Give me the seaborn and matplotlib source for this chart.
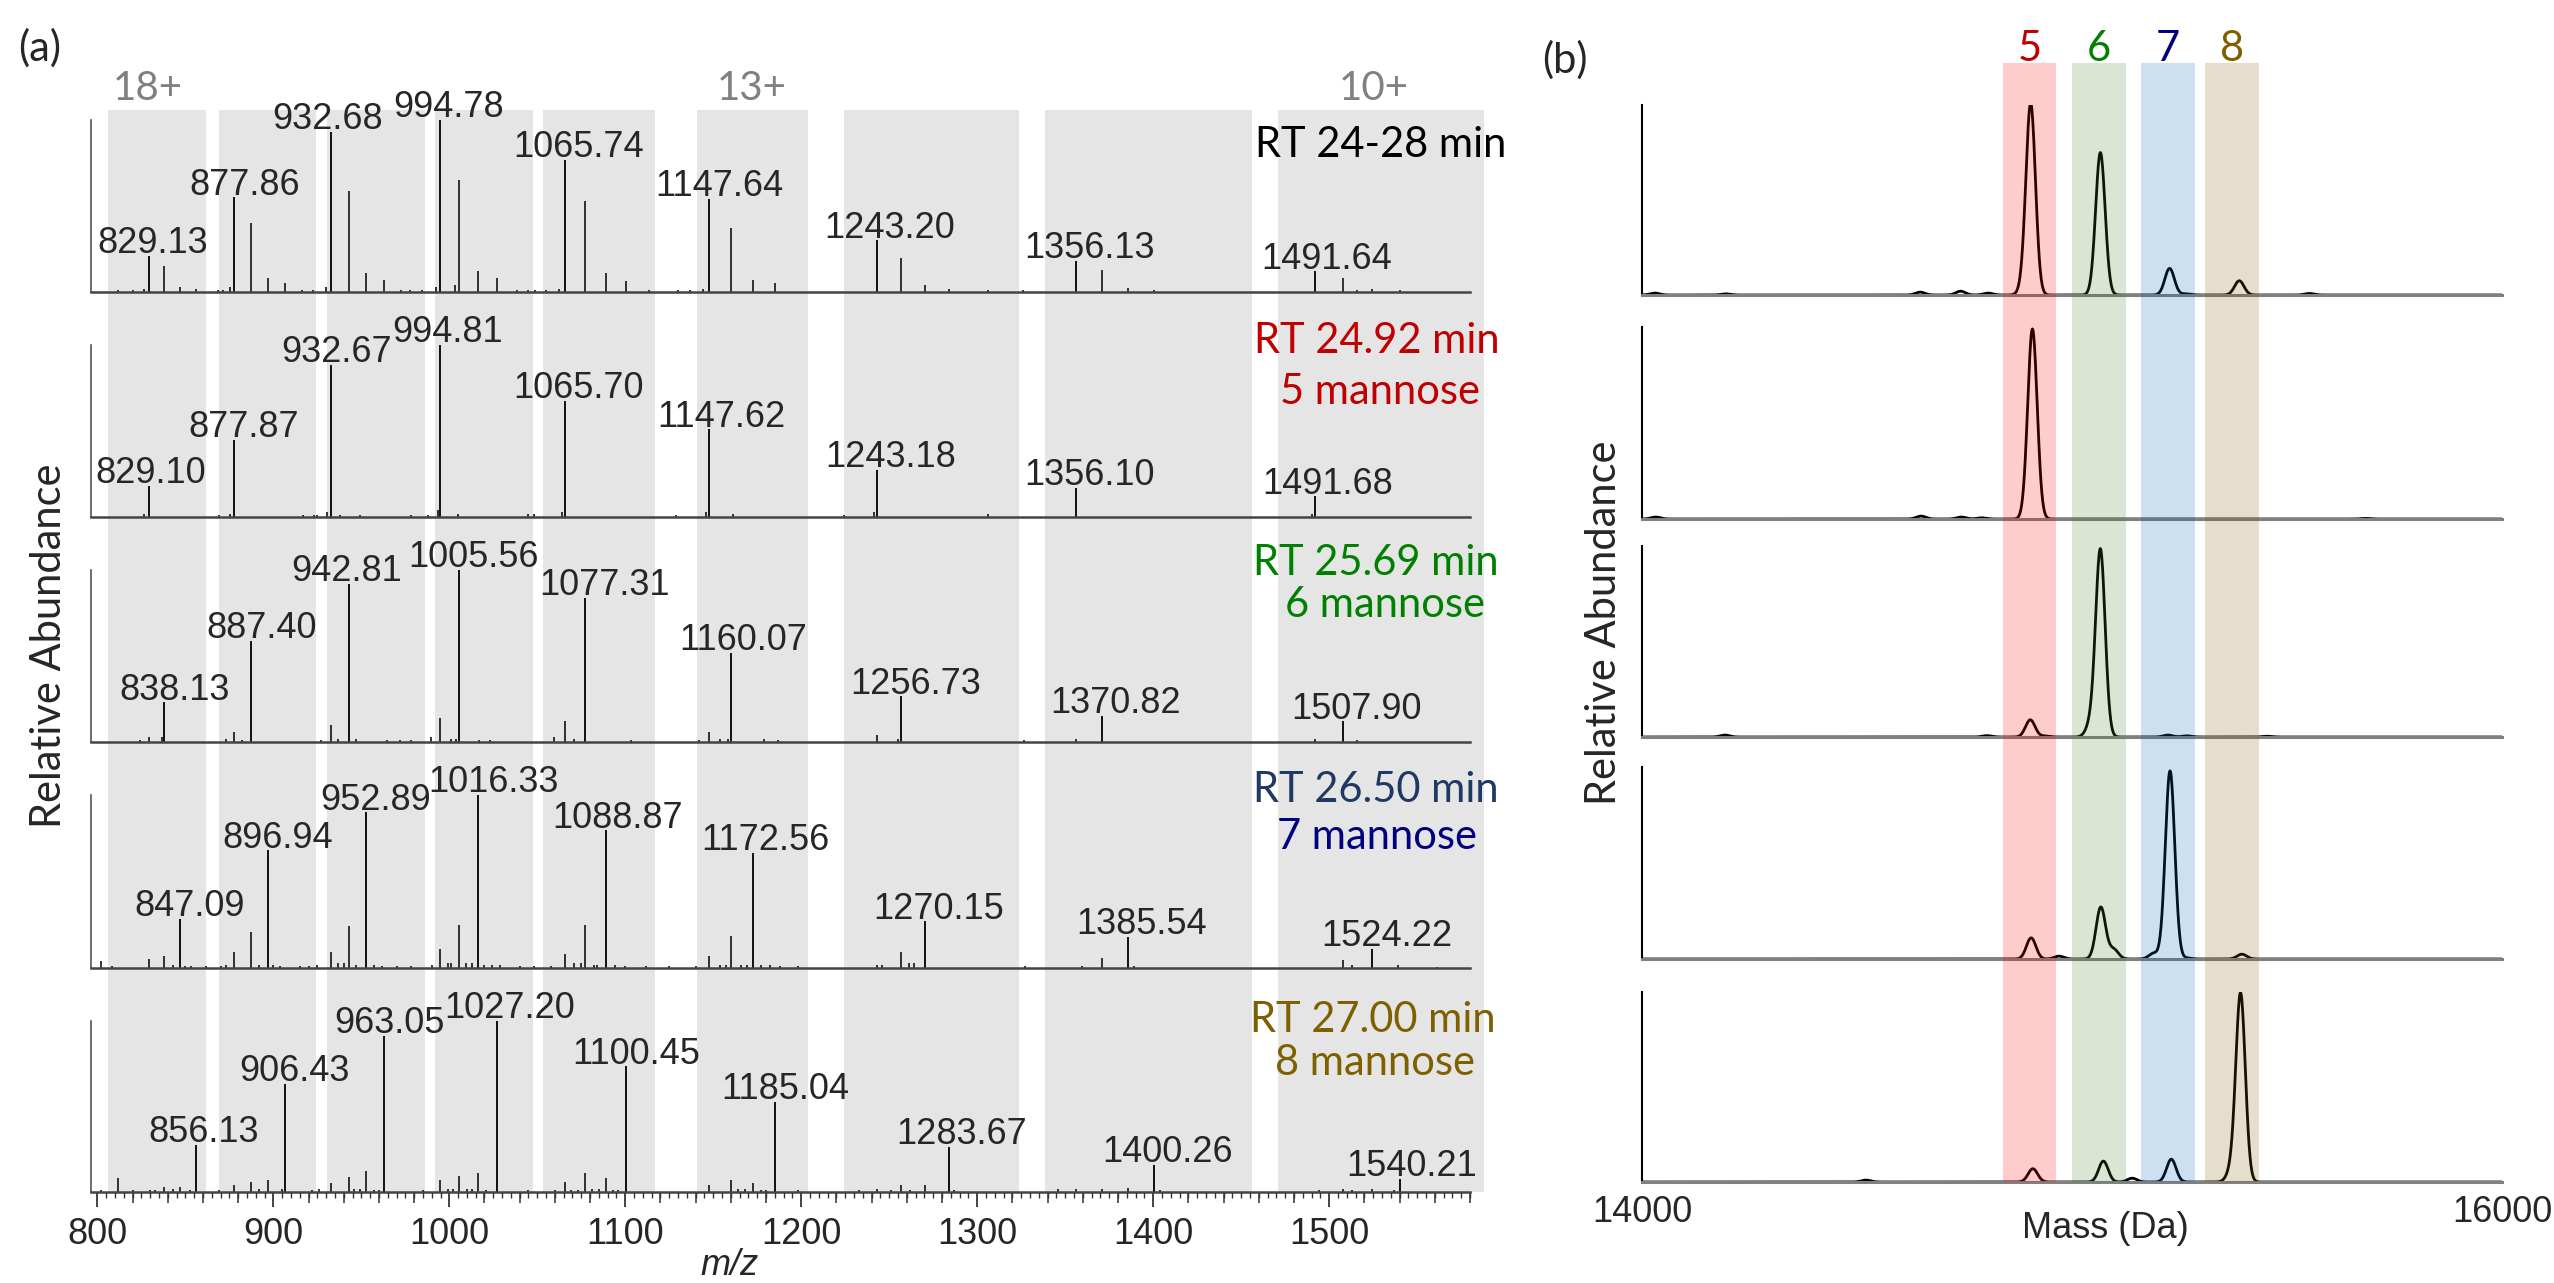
"""
糖鎖（マンノース）異性体の質量スペクトル再現
(a) m/z スペクトル 5段  (b) デコンボリューション後の質量スペクトル 5段
"""

import numpy as np
import matplotlib
matplotlib.use("Agg")
import matplotlib.pyplot as plt
import matplotlib.transforms as mtransforms
from matplotlib.ticker import MultipleLocator, NullFormatter
import seaborn as sns

# ---------------- データ ----------------
W, H = 2554, 1283

rt_text = ["RT 24-28 min", "RT 24.92 min", "RT 25.69 min", "RT 26.50 min", "RT 27.00 min"]
man_text = ["", "5 mannose", "6 mannose", "7 mannose", "8 mannose"]

# (a) ラベル付きピーク (m/z, 相対強度 %)
main_mz_1 = [829.13, 877.86, 932.68, 994.78, 1065.74, 1147.64, 1243.20, 1356.13, 1491.64]
main_int_1 = [21, 55, 93, 100, 77, 54, 30, 18, 12]
main_mz_2 = [829.10, 877.87, 932.67, 994.81, 1065.70, 1147.62, 1243.18, 1356.10, 1491.68]
main_int_2 = [18, 45, 88.5, 100, 67.5, 51, 27.5, 17, 12]
main_mz_3 = [838.13, 887.40, 942.81, 1005.56, 1077.31, 1160.07, 1256.73, 1370.82, 1507.90]
main_int_3 = [23, 59, 92, 100, 84, 52, 26.5, 15, 12]
main_mz_4 = [847.09, 896.94, 952.89, 1016.33, 1088.87, 1172.56, 1270.15, 1385.54, 1524.22]
main_int_4 = [28.5, 68, 90, 100, 79.5, 66.5, 27, 18, 11]
main_mz_5 = [856.13, 906.43, 963.05, 1027.20, 1100.45, 1185.04, 1283.67, 1400.26, 1540.21]
main_int_5 = [27.5, 63, 91.5, 100, 73.5, 52.5, 26.5, 16, 7.7]

# (a) ラベルなしピーク (m/z, 相対強度 %)
other_1 = [(812, 1), (820, 1), (826.5, 2), (838.1, 15), (847.1, 3), (856.1, 2), (868.5, 1), (871.5, 1),
           (875.5, 3), (887.4, 40), (896.9, 8), (906.4, 5), (916.5, 1), (922.5, 1), (930, 3), (942.8, 59),
           (952.9, 11), (963.0, 7), (972.5, 1), (977.5, 1), (984.5, 1), (992.5, 3), (1003.5, 4), (1005.6, 65),
           (1016.3, 12), (1027.2, 8), (1038.5, 1), (1044.5, 1), (1048.5, 1), (1055, 1), (1062.5, 1.5),
           (1077.3, 53), (1088.9, 11), (1100.4, 6.5), (1113.5, 1), (1130, 1), (1136.5, 1), (1144, 1.5),
           (1160.1, 37), (1172.6, 7), (1185.0, 5), (1256.7, 20), (1270.2, 4), (1283.7, 2), (1306, 1),
           (1326, 1), (1370.8, 13), (1385.5, 2.5), (1400.3, 1), (1507.9, 8), (1516, 1), (1524.2, 1.5),
           (1540.2, 1)]
other_2 = [(826.6, 2), (869, 1), (875.5, 2), (916.7, 1), (923.4, 1), (925, 1), (930.3, 3), (938, 1),
           (949, 1), (978, 1), (987.7, 1), (993.5, 4), (1004.7, 1.5), (1044.8, 2), (1048, 2), (1064, 3),
           (1129, 1), (1146, 3), (1161, 1.5), (1224, 1), (1241.5, 3), (1306, 1.5), (1490, 2)]
other_3 = [(824, 1), (829.1, 3), (836.5, 3), (873, 1.5), (877.9, 6), (882, 1), (927, 1), (932.7, 10),
           (937, 2), (947, 1.5), (964.5, 1), (972, 1), (978, 1), (989.7, 3), (994.8, 14), (1001, 2),
           (1004, 2), (1017, 1), (1023, 1), (1059.7, 3), (1065.7, 12), (1071, 2), (1103, 1), (1142, 1),
           (1147.6, 6), (1154, 1.5), (1158.5, 1.5), (1178.6, 1.5), (1187, 1), (1243.2, 4), (1255, 1.5),
           (1326.8, 1), (1356.1, 2), (1491.7, 2), (1516, 1)]
other_4 = [(802, 4), (808.6, 1), (829.1, 5), (838.1, 7), (843, 1.5), (850, 1), (853, 1), (862, 1),
           (870, 1), (873, 2), (877.9, 9), (887.4, 21), (892, 2), (900, 2), (904, 1), (915, 1), (920, 1),
           (925, 1.5), (932.7, 9), (937, 3), (940, 3), (942.8, 24), (947, 2), (957, 1.5), (962, 1),
           (970, 1), (978, 1), (990, 2), (994.8, 11), (999, 3), (1001, 3), (1005.6, 25), (1009.3, 3),
           (1012.7, 3), (1020, 2), (1024, 2), (1029, 1.5), (1040, 1), (1048, 1), (1058, 1), (1065.7, 8),
           (1071, 3), (1075, 3), (1077.3, 25), (1082, 2), (1084, 2), (1094, 2), (1100, 1), (1112, 1),
           (1125, 1), (1140, 1), (1147.6, 7), (1153.6, 2), (1157, 2), (1160.1, 18.5), (1166, 2), (1169, 2),
           (1177, 2), (1182, 1.5), (1188, 1), (1198, 1), (1243.2, 2), (1246, 2), (1256.7, 9), (1261, 3),
           (1264, 3), (1327, 1), (1359.3, 1), (1370.8, 6), (1389, 1), (1507.9, 4.5), (1513, 1.5),
           (1539, 1.5), (1561, 0.5)]
other_5 = [(802, 1), (811.6, 8), (820, 1), (830, 1), (833, 1), (838.1, 3), (843, 2), (847.1, 3),
           (852.7, 1), (869, 1), (877.9, 4), (887.4, 6), (891.8, 2), (896.9, 7), (905, 2), (922, 1),
           (926, 1.5), (932.7, 5), (942.8, 9), (946, 2), (949, 2), (952.9, 12), (957, 1), (960, 1),
           (985, 1), (994.8, 7), (999, 2), (1002, 2), (1005.6, 9.5), (1010, 2), (1013, 2), (1016.3, 11),
           (1021, 1), (1045, 1), (1060, 1), (1065.7, 6), (1069, 1), (1073, 1), (1077.3, 11), (1081, 2),
           (1085, 2), (1088.9, 8), (1093, 1), (1096, 1), (1147.6, 4), (1160.1, 7), (1164, 2), (1168, 2),
           (1172.6, 5), (1177, 1), (1180, 1), (1198, 1), (1233, 1), (1243.2, 2), (1251, 1), (1256.7, 4),
           (1262, 1), (1270.2, 4), (1287, 1), (1346, 1.5), (1356.1, 1.5), (1370.8, 1.5), (1385.5, 2.5),
           (1404, 1), (1494, 1), (1507.9, 1.5), (1513, 1), (1524.2, 2), (1537, 1)]

# (a) 価数ごとの m/z 窓（灰色帯）と価数ラベル
win_lo = [806, 869, 930.5, 992, 1053, 1141, 1224, 1338.5, 1471]
win_hi = [861.5, 924, 986, 1047.5, 1117, 1204, 1324, 1456, 1588]
charge_text = ["18+", "13+", "10+"]
charge_mz = [828.8, 1171.9, 1525.4]

# (b) デコンボリューション質量 (Da, 相対強度 %)
mass_1 = [14904, 15066, 15227, 15389, 14888, 14030, 14195, 14647, 14741, 14805, 15265, 15552]
abund_1 = [100, 75, 14, 7.5, 3, 1, 0.6, 1.5, 2, 1, 0.6, 0.8]
mass_2 = [14908, 14032, 14649, 14743, 14790, 15684]
abund_2 = [99, 1, 1.5, 1, 0.6, 0.3]
mass_3 = [15066, 14903, 15043, 14193, 14802, 15223, 15267, 15454, 14937]
abund_3 = [98, 9, 6, 1, 0.7, 1, 0.6, 0.4, 0.5]
mass_4 = [15228, 15067, 15097, 14905, 14970, 15395, 15267, 15190]
abund_4 = [98, 27, 5, 11, 1.5, 2.5, 0.5, 3]
mass_5 = [15392, 15231, 15073, 14909, 14521, 15140, 15370]
abund_5 = [99, 12, 11, 7, 1, 2, 5]

# (b) マンノース数ごとの質量窓
glycan_num = ["5", "6", "7", "8"]
glycan_lo = [14839, 15000, 15160, 15310]
glycan_hi = [14963, 15126, 15286, 15436]

# ---------------- スタイル ----------------
sns.set_style("white")
plt.rcParams['font.family'] = ['Liberation Sans', 'DejaVu Sans']
CAL = ['Lato', 'DejaVu Sans']

rt_colors = ["black", "#c00000", "#008000", "#1f3864", "#7f6000"]
man_colors = ["black", "#c00000", "#008000", "#000080", "#7f6000"]
num_colors = ["#c00000", "#008000", "#000080", "#7f6000"]
band_colors = ["#ff0000", "#467d23", "#0064b9", "#7d5a00"]

# ラベルの横ずらし (m/z)
label_dx = [[2.5, 6, -2, 5, 7.5, 6, 7, 7.5, 7],
            [1.5, 5.5, 3, 4, 7.5, 7, 7.5, 7.5, 7.5],
            [5.5, 6, -1, 8, 11, 7, 8, 8, 7.5],
            [5.5, 5.5, 5, 9, 7, 7, 8, 8, 8.5],
            [4.5, 5.5, 3, 7, 6, 6, 7.5, 8, 6.5]]

# 画素座標でのレイアウト
A_X0, A_X1 = 91, 1470
a_tops = [120, 345, 570, 795, 1021]
a_bases = [292, 517, 742, 968, 1192]
B_X0, B_X1 = 1642, 2502
b_tops = [105, 327, 546, 767, 992]
b_bases = [295, 519, 737, 959, 1182]
XLIM_A = (796.4, 1580)

rt_pos = [(1381, 157), (1377, 353), (1376, 575), (1376, 802), (1373, 1032)]
man_pos = [None, (1380, 404), (1385, 617), (1377, 849), (1375, 1075)]

fig = plt.figure(figsize=(W / 100, H / 100), dpi=100)


def px_axes(x0, y0, x1, y1, **kw):
    return fig.add_axes([x0 / W, 1 - y1 / H, (x1 - x0) / W, (y1 - y0) / H], **kw)


def ftext(x, y, s, **kw):
    return fig.text(x / W, 1 - y / H, s, **kw)


# ---------------- (a) ----------------
ax_bg = px_axes(A_X0, 110, A_X1, 1192)
ax_bg.set_xlim(*XLIM_A)
ax_bg.set_ylim(0, 1)
ax_bg.axis('off')
for lo, hi in zip(win_lo, win_hi):
    r = ax_bg.axvspan(lo, hi, color='#e5e5e5', lw=0)
    r.set_clip_on(False)
tr = mtransforms.blended_transform_factory(ax_bg.transData, fig.transFigure)
for s, m in zip(charge_text, charge_mz):
    ax_bg.text(m, 1 - 100 / H, s, transform=tr, ha='center', va='baseline',
               fontsize=29, color='#808080', family=CAL)

mains = [(main_mz_1, main_int_1), (main_mz_2, main_int_2), (main_mz_3, main_int_3),
         (main_mz_4, main_int_4), (main_mz_5, main_int_5)]
others = [other_1, other_2, other_3, other_4, other_5]

for i in range(5):
    ax = px_axes(A_X0, a_tops[i], A_X1, a_bases[i])
    ax.patch.set_visible(False)
    ax.set_xlim(*XLIM_A)
    ax.set_ylim(0, 100)
    mz, inten = mains[i]
    o_mz = [p[0] for p in others[i]]
    o_int = [p[1] for p in others[i]]
    ax.vlines(o_mz, 0, o_int, color='black', lw=1.1)
    ax.vlines(mz, 0, inten, color='black', lw=1.3)
    for m, h, dx in zip(mz, inten, label_dx[i]):
        ax.annotate(f"{m:.2f}", xy=(m + dx, h), xytext=(0, 2), textcoords='offset points',
                    ha='center', va='baseline', fontsize=26, annotation_clip=False)
    for side in ['top', 'right']:
        ax.spines[side].set_visible(False)
    ax.spines['left'].set_color('#555555')
    ax.spines['left'].set_linewidth(1.2)
    ax.spines['bottom'].set_color('#444444')
    ax.spines['bottom'].set_linewidth(1.8)
    ax.set_yticks([])
    if i < 4:
        ax.set_xticks([])
    else:
        ax.xaxis.set_major_locator(MultipleLocator(100))
        ax.xaxis.set_minor_locator(MultipleLocator(5))
        ax.tick_params(axis='x', which='major', direction='out', length=11, width=1.3,
                       color='#333333', pad=7, labelsize=26, bottom=True)
        ax.tick_params(axis='x', which='minor', direction='out', length=4.5, width=1.0,
                       color='#333333', bottom=True)
        sec = ax.secondary_xaxis('bottom')
        sec.set_xticks([t for t in range(820, 1581, 20) if t % 100])
        sec.xaxis.set_major_formatter(NullFormatter())
        sec.tick_params(axis='x', direction='out', length=8, width=1.1, color='#333333')
        sec.spines['bottom'].set_visible(False)

    x, y = rt_pos[i]
    ftext(x, y, rt_text[i], ha='center', va='baseline', fontsize=30,
          color=rt_colors[i], family=CAL)
    if man_pos[i] is not None:
        x, y = man_pos[i]
        ftext(x, y, man_text[i], ha='center', va='baseline', fontsize=30,
              color=man_colors[i], family=CAL)

ftext(730, 1275, "m/z", ha='center', va='baseline', fontsize=26, style='italic')
ftext(49, 646, "Relative Abundance", ha='center', va='center', rotation=90,
      fontsize=30, family=CAL)
ftext(40, 61, "(a)", ha='center', va='baseline', fontsize=30, family=CAL)

# ---------------- (b) ----------------
grid = np.arange(14000, 16001, 1.0)
SIGMA = 11.0
masses = [(mass_1, abund_1), (mass_2, abund_2), (mass_3, abund_3), (mass_4, abund_4), (mass_5, abund_5)]

for i in range(5):
    ax = px_axes(B_X0, b_tops[i], B_X1, b_bases[i])
    ax.patch.set_visible(False)
    ms, ab = masses[i]
    prof = np.zeros_like(grid)
    for m, a in zip(ms, ab):
        prof += a * np.exp(-0.5 * ((grid - m) / SIGMA) ** 2)
    sns.lineplot(x=grid, y=prof, ax=ax, color='black', lw=2.0)
    ax.set_xlim(14000, 16000)
    ax.set_ylim(0, 100)
    for side in ['top', 'right']:
        ax.spines[side].set_visible(False)
    ax.spines['left'].set_color('black')
    ax.spines['left'].set_linewidth(1.5)
    ax.spines['bottom'].set_color('#808080')
    ax.spines['bottom'].set_linewidth(2.2)
    ax.set_yticks([])
    ax.set_ylabel("")
    if i < 4:
        ax.set_xticks([])
    else:
        ax.set_xticks([14000, 16000])
        ax.set_xticklabels(["14000", "16000"])
        ax.tick_params(axis='x', length=0, pad=9, labelsize=26)

ax_ov = px_axes(B_X0, 63, B_X1, 1182)
ax_ov.set_xlim(14000, 16000)
ax_ov.set_ylim(0, 1)
ax_ov.axis('off')
for lo, hi, c in zip(glycan_lo, glycan_hi, band_colors):
    ax_ov.axvspan(lo, hi, color=c, alpha=0.2, lw=0)
trb = mtransforms.blended_transform_factory(ax_ov.transData, fig.transFigure)
for s, lo, hi, c in zip(glycan_num, glycan_lo, glycan_hi, num_colors):
    ax_ov.text((lo + hi) / 2, 1 - 61 / H, s, transform=trb, ha='center', va='baseline',
               fontsize=30, color=c, family=CAL)

ftext(2105, 1238, "Mass (Da)", ha='center', va='baseline', fontsize=26)
ftext(1604, 623, "Relative Abundance", ha='center', va='center', rotation=90,
      fontsize=30, family=CAL)
ftext(1565, 73, "(b)", ha='center', va='baseline', fontsize=30, family=CAL)

fig.savefig("out.png", dpi=100)
